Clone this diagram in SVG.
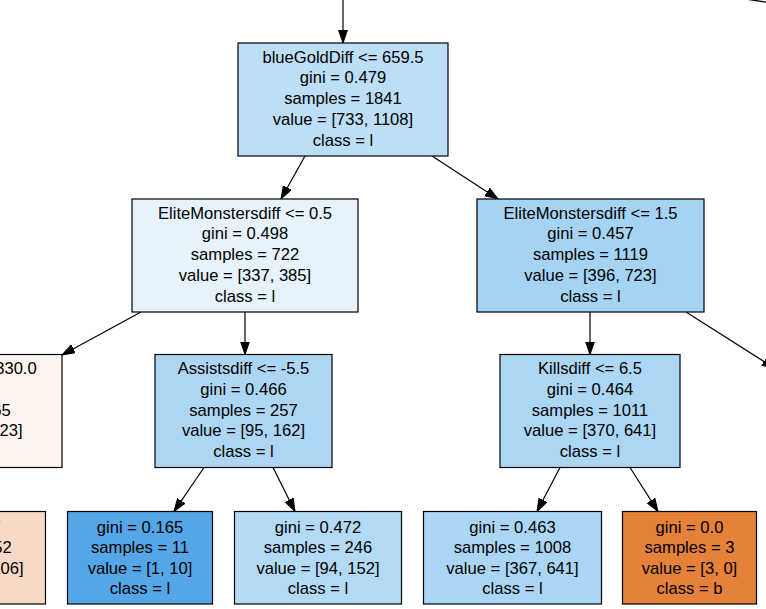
<svg xmlns="http://www.w3.org/2000/svg" width="766" height="609" viewBox="0 0 766 609">
  <style>
    .box { stroke: #000; stroke-width: 1.2; }
    .lbl { font-family: "Liberation Sans", Arial, sans-serif; font-size: 16.6px; fill: #000; text-anchor: middle; }
    .edge { fill: none; stroke: #000; stroke-width: 1.2; }
  </style>
  <defs>
    <marker id="arrow" markerUnits="userSpaceOnUse" markerWidth="14" markerHeight="12" refX="13" refY="5" orient="auto">
      <path d="M0,0.5 L13,5 L0,9.5 Z" fill="#000" stroke="#000" stroke-width="1"/>
    </marker>
  </defs>

  <!-- connectors -->
  <g id="edges">
    <path class="edge" d="M343,-5 L343,43" marker-end="url(#arrow)"/>
    <path class="edge" d="M745,-1 Q756,0.5 768,2.5"/>
    <path class="edge" d="M305,156 L281,199" marker-end="url(#arrow)"/>
    <path class="edge" d="M432,156 L498,199" marker-end="url(#arrow)"/>
    <path class="edge" d="M141,312 L62,355" marker-end="url(#arrow)"/>
    <path class="edge" d="M245,312 L245,354.5" marker-end="url(#arrow)"/>
    <path class="edge" d="M590,312 L590,354.5" marker-end="url(#arrow)"/>
    <path class="edge" d="M686,312 L775,368.4" marker-end="url(#arrow)"/>
    <path class="edge" d="M204,467.5 L174,511.5" marker-end="url(#arrow)"/>
    <path class="edge" d="M273,467.5 L295,511.5" marker-end="url(#arrow)"/>
    <path class="edge" d="M560,467.5 L537,511.5" marker-end="url(#arrow)"/>
    <path class="edge" d="M630,467.5 L658,511.5" marker-end="url(#arrow)"/>
  </g>

  <!-- split nodes -->
  <g id="node-root">
    <rect class="box" x="238" y="43" width="210" height="113" fill="#bcdef6"/>
    <text class="lbl" x="343" y="62.5">blueGoldDiff &lt;= 659.5</text>
    <text class="lbl" x="343" y="83.2">gini = 0.479</text>
    <text class="lbl" x="343" y="104">samples = 1841</text>
    <text class="lbl" x="343" y="124.7">value = [733, 1108]</text>
    <text class="lbl" x="343" y="145.5">class = l</text>
  </g>

  <g id="node-elite-left">
    <rect class="box" x="132" y="199" width="226" height="113" fill="#e6f3fc"/>
    <text class="lbl" x="245" y="218.5">EliteMonstersdiff &lt;= 0.5</text>
    <text class="lbl" x="245" y="239.2">gini = 0.498</text>
    <text class="lbl" x="245" y="260">samples = 722</text>
    <text class="lbl" x="245" y="280.7">value = [337, 385]</text>
    <text class="lbl" x="245" y="301.5">class = l</text>
  </g>

  <g id="node-elite-right">
    <rect class="box" x="477" y="199" width="227" height="113" fill="#a5d3f3"/>
    <text class="lbl" x="590.5" y="218.5">EliteMonstersdiff &lt;= 1.5</text>
    <text class="lbl" x="590.5" y="239.2">gini = 0.457</text>
    <text class="lbl" x="590.5" y="260">samples = 1119</text>
    <text class="lbl" x="590.5" y="280.7">value = [396, 723]</text>
    <text class="lbl" x="590.5" y="301.5">class = l</text>
  </g>

  <g id="node-left-split">
    <rect class="box" x="-150" y="354.5" width="212" height="113" fill="#fdf4ee"/>
    <text class="lbl" x="36.7" y="374" style="text-anchor:end">330.0</text>
    <text class="lbl" x="-43.5" y="394.7">gini = 0.499</text>
    <text class="lbl" x="-43.5" y="415.5">samples = 465</text>
    <text class="lbl" x="-43.5" y="436.2">value = [242, 223]</text>
    <text class="lbl" x="-43.5" y="457">class = b</text>
  </g>

  <g id="node-assists">
    <rect class="box" x="155" y="354.5" width="177" height="113" fill="#add6f4"/>
    <text class="lbl" x="243.5" y="374">Assistsdiff &lt;= -5.5</text>
    <text class="lbl" x="243.5" y="394.7">gini = 0.466</text>
    <text class="lbl" x="243.5" y="415.5">samples = 257</text>
    <text class="lbl" x="243.5" y="436.2">value = [95, 162]</text>
    <text class="lbl" x="243.5" y="457">class = l</text>
  </g>

  <g id="node-kills">
    <rect class="box" x="500" y="354.5" width="180" height="113" fill="#abd6f4"/>
    <text class="lbl" x="590" y="374">Killsdiff &lt;= 6.5</text>
    <text class="lbl" x="590" y="394.7">gini = 0.464</text>
    <text class="lbl" x="590" y="415.5">samples = 1011</text>
    <text class="lbl" x="590" y="436.2">value = [370, 641]</text>
    <text class="lbl" x="590" y="457">class = l</text>
  </g>

  <!-- leaves -->
  <g id="leaf-left-partial">
    <rect class="box" x="-150" y="511.5" width="195.5" height="92.5" fill="#f6dac5"/>
    <text class="lbl" x="-42.5" y="532.5">gini = 0.487</text>
    <text class="lbl" x="-42.5" y="553">samples = 252</text>
    <text class="lbl" x="-42.5" y="573.5">value = [146, 106]</text>
    <text class="lbl" x="-42.5" y="594">class = b</text>
  </g>

  <g id="leaf-1">
    <rect class="box" x="67.5" y="511.5" width="145" height="92.5" fill="#55a6e6"/>
    <text class="lbl" x="140" y="532.5">gini = 0.165</text>
    <text class="lbl" x="140" y="553">samples = 11</text>
    <text class="lbl" x="140" y="573.5">value = [1, 10]</text>
    <text class="lbl" x="140" y="594">class = l</text>
  </g>

  <g id="leaf-2">
    <rect class="box" x="234.5" y="511.5" width="167" height="92.5" fill="#b3daf5"/>
    <text class="lbl" x="318" y="532.5">gini = 0.472</text>
    <text class="lbl" x="318" y="553">samples = 246</text>
    <text class="lbl" x="318" y="573.5">value = [94, 152]</text>
    <text class="lbl" x="318" y="594">class = l</text>
  </g>

  <g id="leaf-3">
    <rect class="box" x="423.5" y="511.5" width="178" height="92.5" fill="#aad5f4"/>
    <text class="lbl" x="512.5" y="532.5">gini = 0.463</text>
    <text class="lbl" x="512.5" y="553">samples = 1008</text>
    <text class="lbl" x="512.5" y="573.5">value = [367, 641]</text>
    <text class="lbl" x="512.5" y="594">class = l</text>
  </g>

  <g id="leaf-4">
    <rect class="box" x="622.5" y="511.5" width="134" height="92.5" fill="#e58139"/>
    <text class="lbl" x="689.5" y="532.5">gini = 0.0</text>
    <text class="lbl" x="689.5" y="553">samples = 3</text>
    <text class="lbl" x="689.5" y="573.5">value = [3, 0]</text>
    <text class="lbl" x="689.5" y="594">class = b</text>
  </g>
</svg>
